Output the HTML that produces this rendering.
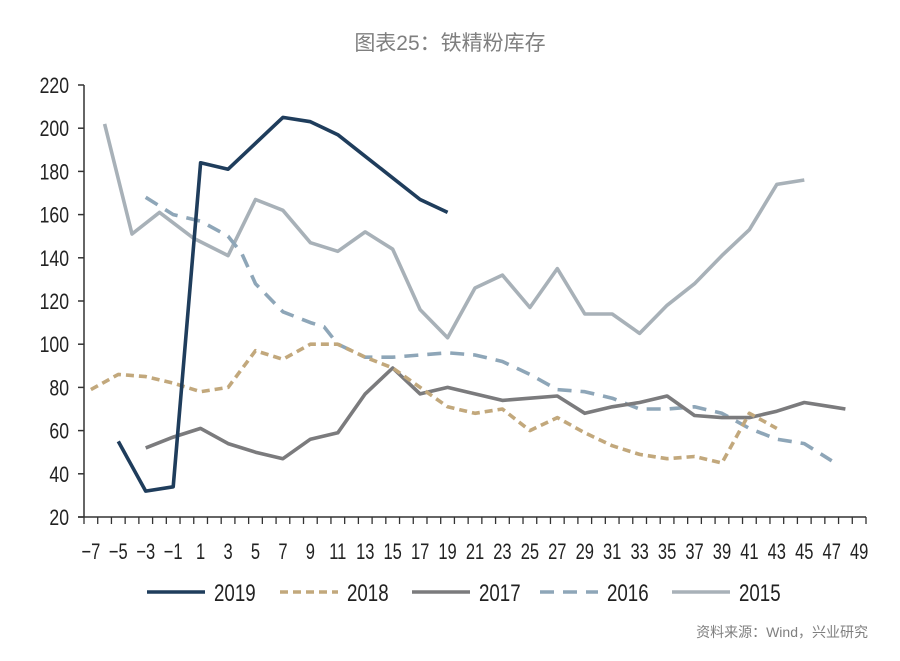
<!DOCTYPE html>
<html><head><meta charset="utf-8">
<style>
html,body{margin:0;padding:0;background:#fff;}
svg{display:block;}
text{font-family:"Liberation Sans","Noto Sans CJK SC",sans-serif;}
</style></head>
<body>
<svg id="chart" width="900" height="661" viewBox="0 0 900 661">
<text x="450" y="50" text-anchor="middle" font-size="21" fill="#7f7f7f">图表25：铁精粉库存</text>
<g id="axes"></g>
<g id="series"></g>
<g id="legend"></g>
<text x="868" y="637" text-anchor="end" font-size="14" fill="#7f7f7f">资料来源：Wind，兴业研究</text>
</svg>
<script>
const yTicks = [20,40,60,80,100,120,140,160,180,200,220];
const xTickLabels = [-7,-5,-3,-1,1,3,5,7,9,11,13,15,17,19,21,23,25,27,29,31,33,35,37,39,41,43,45,47,49];
const seriesNames = ["2019","2018","2017","2016","2015"];
const weeks2019 = [-5,-3,-1,1,3,5,7,9,11,13,15,17,19];
const values2019 = [55,32,34,184,181,193,205,203,197,187,177,167,161];
const weeks2018 = [-7,-5,-3,-1,1,3,5,7,9,11,13,15,17,19,21,23,25,27,29,31,33,35,37,39,41,43];
const values2018 = [79,86,85,82,78,80,97,93,100,100,94,89,80,71,68,70,60,66,59,53,49,47,48,45,68,61];
const weeks2017 = [-3,-1,1,3,5,7,9,11,13,15,17,19,21,23,25,27,29,31,33,35,37,39,41,43,45,47,48];
const values2017 = [52,57,61,54,50,47,56,59,77,89,77,80,77,74,75,76,68,71,73,76,67,66,66,69,73,71,70];
const weeks2016 = [-3,-1,1,3,4,5,7,9,10,11,13,15,17,19,21,23,25,27,29,31,33,35,37,39,41,43,45,47];
const values2016 = [168,160,157,150,142,128,115,110,108,100,94,94,95,96,95,92,86,79,78,75,70,70,71,68,61,56,54,46];
const weeks2015 = [-6,-4,-2,0.5,3,5,7,9,11,13,15,17,19,21,23,25,27,29,31,33,35,37,39,41,43,45];
const values2015 = [202,151,161,149,141,167,162,147,143,152,144,116,103,126,132,117,135,114,114,105,118,128,141,153,174,176];

const NS = "http://www.w3.org/2000/svg";
const x0 = 84, x1 = 866, yTop = 85, yBot = 517;
const weekMin = -7, weekMax = 49;
const band = (x1 - x0) / (weekMax - weekMin + 1);
function xScale(w){ return x0 + band * (w - weekMin + 0.5); }
function yScale(v){ return yBot - (v - 20) * (yBot - yTop) / 200; }
function mk(tag, attrs, parent){
  const e = document.createElementNS(NS, tag);
  for (const k in attrs) e.setAttribute(k, attrs[k]);
  parent.appendChild(e);
  return e;
}
const axes = document.getElementById('axes');
let yAxis = mk('line', {x1:x0, y1:yTop, x2:x0, y2:yBot, stroke:'#333', 'stroke-width':1.5}, axes);


let xAxis = mk('line', {x1:x0-6, y1:yBot, x2:x1, y2:yBot, stroke:'#333', 'stroke-width':1.5}, axes);


yTicks.forEach(v => {
  const y = yScale(v);
  let t = mk('line', {x1:x0-6, y1:y, x2:x0, y2:y, stroke:'#333', 'stroke-width':1.5}, axes);
  
  
  let l = mk('text', {x:69, y:y+8, 'text-anchor':'end', 'font-size':22, fill:'#222', transform:`translate(69 0) scale(0.8 1) translate(-69 0)`}, axes);
  l.textContent = v;
  
  
});
for (let i = 0; i <= weekMax - weekMin + 1; i++) {
  const x = x0 + band * i;
  let t = mk('line', {x1:x, y1:yBot, x2:x, y2:yBot+7, stroke:'#333', 'stroke-width':1.3}, axes);
  
  
}
xTickLabels.forEach(w => {
  const x = xScale(w);
  let l = mk('text', {x:x, y:559, 'text-anchor':'middle', 'font-size':22, fill:'#222', transform:`translate(${x} 0) scale(0.75 1) translate(${-x} 0)`}, axes);
  l.textContent = (w < 0 ? '\u2212' + (-w) : w);
  
  
});
const styles = {
  "2019": {color:'#1f3d5c', dash:null},
  "2018": {color:'#c2a87c', dash:'8 5'},
  "2017": {color:'#7b7b7d', dash:null},
  "2016": {color:'#8ea6b8', dash:'14 9'},
  "2015": {color:'#a8b1b8', dash:null}
};
const data = {
  "2019": [weeks2019, values2019],
  "2018": [weeks2018, values2018],
  "2017": [weeks2017, values2017],
  "2016": [weeks2016, values2016],
  "2015": [weeks2015, values2015]
};
const sg = document.getElementById('series');
["2015","2016","2017","2018","2019"].forEach(name => {
  const [ws, vs] = data[name];
  const pts = ws.map((w,i) => xScale(w).toFixed(1) + ',' + yScale(vs[i]).toFixed(1)).join(' ');
  const st = styles[name];
  const attrs = {points:pts, fill:'none', stroke:st.color, 'stroke-width':3.6, 'stroke-linejoin':'round'};
  if (st.dash) attrs['stroke-dasharray'] = st.dash;
  let p = mk('polyline', attrs, sg);
  
  
});
const lg = document.getElementById('legend');
const legendX = [147, 280, 412, 540, 672];
seriesNames.forEach((name, i) => {
  const st = styles[name];
  const g = mk('g', {}, lg);
  
  
  const a = {x1:legendX[i], y1:592, x2:legendX[i]+58, y2:592, stroke:st.color, 'stroke-width':3.6};
  if (st.dash) a['stroke-dasharray'] = st.dash;
  mk('line', a, g);
  const tx = legendX[i] + 67;
  let t = mk('text', {x:tx, y:601, 'font-size':24, fill:'#222', transform:`translate(${tx} 0) scale(0.78 1) translate(${-tx} 0)`}, g);
  t.textContent = name;
});
</script>
</body></html>
